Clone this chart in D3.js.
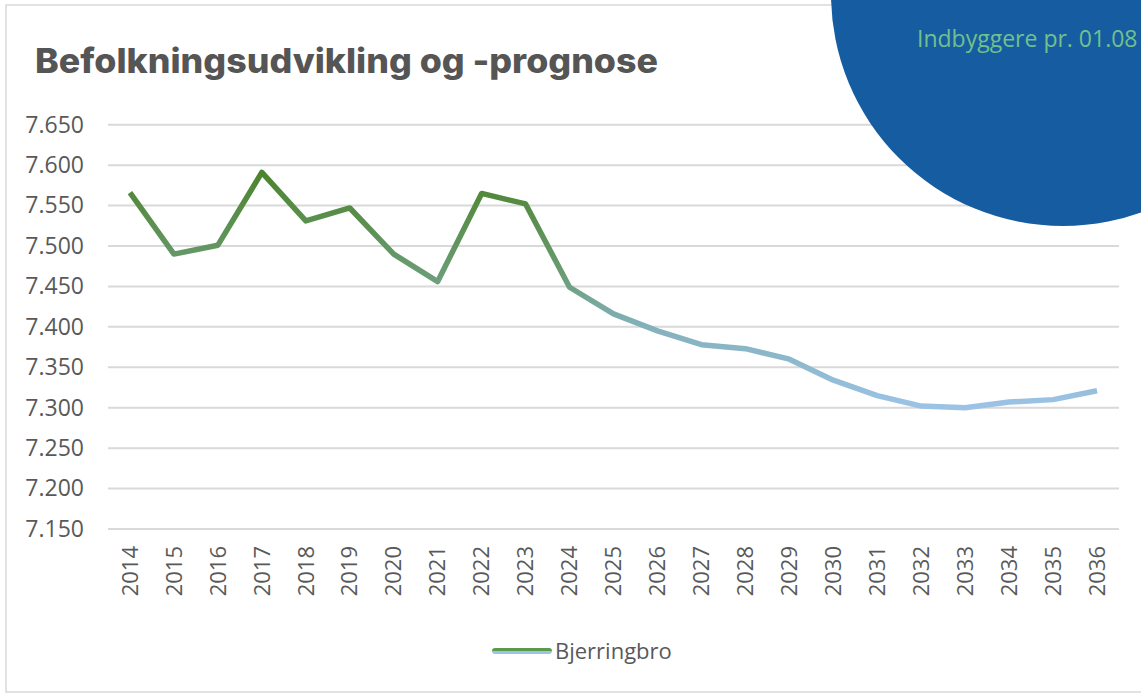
<!DOCTYPE html>
<html>
<head>
<meta charset="utf-8">
<script src="https://cdn.jsdelivr.net/npm/d3@7"></script>
<style>
  body { margin: 0; background: #fff; overflow: hidden; }
  text { font-family: "Open Sans", "Noto Sans", sans-serif; }
</style>
</head>
<body>
<script>
// data
let years = ["2014", "2015", "2016", "2017", "2018", "2019", "2020", "2021", "2022", "2023", "2024",
    "2025", "2026", "2027", "2028", "2029", "2030", "2031", "2032", "2033", "2034", "2035", "2036"];
let population = [7566, 7490, 7501, 7591, 7531, 7547, 7490, 7456, 7565, 7552, 7449,
    7416, 7395, 7378, 7373, 7360, 7334, 7315, 7302, 7300, 7307, 7310, 7321];
let yTicks = [7150, 7200, 7250, 7300, 7350, 7400, 7450, 7500, 7550, 7600, 7650];
let seriesName = "Bjerringbro";

let w = 1141,
    h = 693;

let svg = d3.select("body").append("svg")
    .attr("width", w)
    .attr("height", h);

let defs = svg.append("defs");

// frame
svg.append("rect")
    .attr("x", 6).attr("y", 5)
    .attr("width", w).attr("height", 687)
    .attr("fill", "#fff")
    .attr("stroke", "#d9d9d9")
    .attr("stroke-width", 1.5);

let x = d3.scaleBand()
    .domain(years)
    .range([108, 1119])
    .padding(0);

let y = d3.scaleLinear()
    .domain([7150, 7650])
    .range([529, 124.7]);

// gridlines
svg.append("g")
    .selectAll("line")
    .data(yTicks)
    .enter().append("line")
    .attr("x1", 108)
    .attr("x2", 1119)
    .attr("y1", function (d) { return y(d); })
    .attr("y2", function (d) { return y(d); })
    .attr("stroke", "#d9d9d9")
    .attr("stroke-width", 2);

// y axis
let yAxis = svg.append("g")
    .attr("transform", "translate(84,0)")
    .call(d3.axisLeft(y).tickValues(yTicks).tickSize(0).tickPadding(0)
        .tickFormat(function (d) { return (d / 1000).toFixed(3); }));
yAxis.select(".domain").remove();
yAxis.selectAll("text")
    .attr("fill", "#595959")
    .style("font-size", "23px")
    .style("font-family", "'Open Sans', sans-serif");

// x axis
let xAxis = svg.append("g")
    .attr("transform", "translate(0,546)")
    .call(d3.axisBottom(x).tickSize(0).tickPadding(0));
xAxis.select(".domain").remove();
xAxis.selectAll("text")
    .attr("transform", "rotate(-90)")
    .attr("x", 0)
    .attr("y", 0)
    .attr("dy", "0.35em")
    .attr("text-anchor", "end")
    .attr("fill", "#595959")
    .style("font-size", "22px")
    .style("font-family", "'Open Sans', sans-serif");

// line gradient (green at top, light blue at bottom)
let grad = defs.append("linearGradient")
    .attr("id", "lineGrad")
    .attr("gradientUnits", "userSpaceOnUse")
    .attr("x1", 0).attr("x2", 0)
    .attr("y1", y(7600)).attr("y2", y(7300));
grad.append("stop").attr("offset", "0").attr("stop-color", "#4a8228");
grad.append("stop").attr("offset", "0.45").attr("stop-color", "#6a9c74");
grad.append("stop").attr("offset", "0.65").attr("stop-color", "#82b0b8");
grad.append("stop").attr("offset", "1").attr("stop-color", "#9cc3e6");

let line = d3.line()
    .x(function (d, i) { return x(years[i]) + x.bandwidth() / 2; })
    .y(function (d) { return y(d); });

svg.append("path")
    .datum(population)
    .attr("d", line)
    .attr("fill", "none")
    .attr("stroke", "url(#lineGrad)")
    .attr("stroke-width", 5.5)
    .attr("stroke-linejoin", "round")
    .attr("stroke-linecap", "butt");

// legend
let lg = defs.append("linearGradient")
    .attr("id", "legGrad")
    .attr("x1", 0).attr("x2", 0).attr("y1", 0).attr("y2", 1);
lg.append("stop").attr("offset", "0").attr("stop-color", "#5a9a4a");
lg.append("stop").attr("offset", "0.5").attr("stop-color", "#5a9a4a");
lg.append("stop").attr("offset", "0.5").attr("stop-color", "#9cc3e6");
lg.append("stop").attr("offset", "1").attr("stop-color", "#9cc3e6");

svg.append("rect")
    .attr("x", 492).attr("y", 648)
    .attr("width", 60).attr("height", 6)
    .attr("rx", 3)
    .attr("fill", "url(#legGrad)");

svg.append("text")
    .attr("x", 555)
    .attr("y", 659)
    .attr("fill", "#595959")
    .style("font-size", "22px")
    .text(seriesName);

// title
svg.append("text")
    .attr("x", 35)
    .attr("y", 73)
    .attr("fill", "#555555")
    .attr("textLength", 623)
    .attr("lengthAdjust", "spacingAndGlyphs")
    .style("font-family", "Inter, 'Noto Sans', sans-serif")
    .style("font-weight", 800)
    .style("font-size", "34px")
    .text("Befolkningsudvikling og -prognose");

// blue circle in the corner
svg.append("circle")
    .attr("cx", 1063)
    .attr("cy", -6)
    .attr("r", 232)
    .attr("fill", "#155da0");

svg.append("text")
    .attr("x", 917)
    .attr("y", 47)
    .attr("fill", "#72c08e")
    .style("font-size", "23px")
    .text("Indbyggere pr. 01.08");
</script>
</body>
</html>
